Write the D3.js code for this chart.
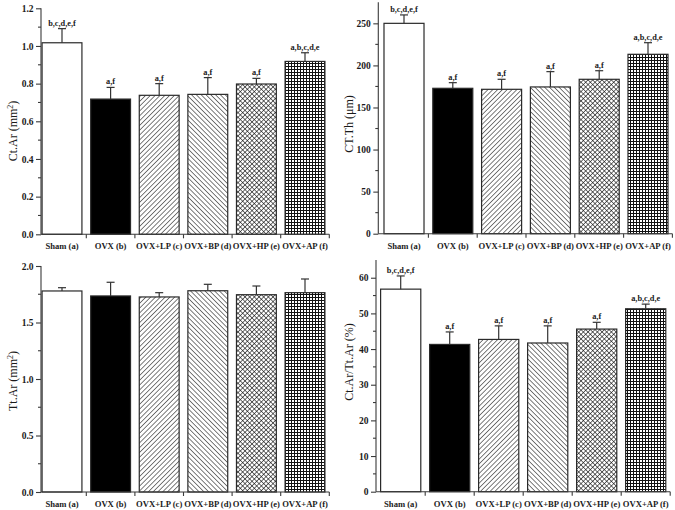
<!DOCTYPE html>
<html><head><meta charset="utf-8">
<script src="https://cdn.jsdelivr.net/npm/d3@7"></script>
<style>
html,body{margin:0;padding:0;background:#fff;}
svg{display:block;}
text{font-family:"Liberation Serif","Times New Roman",serif;fill:#1a1a1a;}
</style></head>
<body>
<svg id="chart" width="675" height="510"></svg>
<script>
// ---------- data ----------
const categories = ["Sham (a)", "OVX (b)", "OVX+LP (c)", "OVX+BP (d)", "OVX+HP (e)", "OVX+AP (f)"];
const fills = ["white", "black", "diagUp", "diagDown", "crossDiag", "grid"];

const ctArMean = [1.017, 0.718, 0.738, 0.743, 0.798, 0.918];
const ctArErr  = [0.075, 0.062, 0.062, 0.089, 0.030, 0.046];
const ctArSig  = ["b,c,d,e,f", "a,f", "a,f", "a,f", "a,f", "a,b,c,d,e"];
const ctArTicks = [0, 0.2, 0.4, 0.6, 0.8, 1.0, 1.2];

const ctThMean = [250, 172.8, 171.6, 174.4, 183.5, 213.2];
const ctThErr  = [10, 6.7, 11.9, 18.2, 10.2, 13.8];
const ctThSig  = ["b,c,d,e,f", "a,f", "a,f", "a,f", "a,f", "a,b,c,d,e"];
const ctThTicks = [0, 50, 100, 150, 200, 250];

const ttArMean = [1.779, 1.735, 1.726, 1.781, 1.746, 1.764];
const ttArErr  = [0.029, 0.121, 0.038, 0.057, 0.077, 0.121];
const ttArSig  = ["", "", "", "", "", ""];
const ttArTicks = [0, 0.5, 1.0, 1.5, 2.0];

const ratioMean = [56.8, 41.3, 42.7, 41.7, 45.6, 51.3];
const ratioErr  = [3.7, 3.5, 3.8, 4.8, 1.9, 1.3];
const ratioSig  = ["b,c,d,e,f", "a,f", "a,f", "a,f", "a,f", "a,b,c,d,e"];
const ratioTicks = [0, 10, 20, 30, 40, 50, 60];

// ---------- panels (layout) ----------
const panels = [
  {mean: ctArMean, err: ctArErr, sig: ctArSig, ticks: ctArTicks, max: 1.2, fmt: ".1f",
   title: "Ct.Ar (mm", sup: "2", tail: ")",
   axisX: 41, band: [37.7, 329.3], y: [234.3, 8.3], titleX: 13, titleY: 131},
  {mean: ctThMean, err: ctThErr, sig: ctThSig, ticks: ctThTicks, max: 275, fmt: "d",
   title: "CT.Th (\u03bcm)", sup: "", tail: "",
   axisX: 378.3, band: [379.6, 672.4], y: [233.7, 2.3], titleX: 349, titleY: 124},
  {mean: ttArMean, err: ttArErr, sig: ttArSig, ticks: ttArTicks, max: 2.0, fmt: ".1f",
   title: "Tt.Ar (mm", sup: "2", tail: ")",
   axisX: 41, band: [37.7, 329.3], y: [492, 266], titleX: 13, titleY: 381},
  {mean: ratioMean, err: ratioErr, sig: ratioSig, ticks: ratioTicks, max: 65, fmt: "d",
   title: "Ct.Ar/Tt.Ar (%)", sup: "", tail: "",
   axisX: 376, band: [376.2, 670.2], y: [491.7, 259.9], titleX: 349, titleY: 362}
];

const svg = d3.select("#chart");
const axisColor = "#3a3a3a";

// ---------- patterns ----------
const defs = svg.append("defs");
function linePattern(id, rot, spacing, sw) {
  const p = defs.append("pattern").attr("id", id).attr("patternUnits", "userSpaceOnUse")
    .attr("width", spacing).attr("height", spacing).attr("patternTransform", `rotate(${rot})`);
  p.append("rect").attr("width", spacing).attr("height", spacing).attr("fill", "white");
  p.append("line").attr("x1", 0).attr("y1", 0).attr("x2", 0).attr("y2", spacing)
    .attr("stroke", "#111").attr("stroke-width", sw);
}
linePattern("diagUp", 45, 3.4, 1.1);
linePattern("diagDown", -45, 3.4, 1.1);
{
  const s = 3.3;
  const p = defs.append("pattern").attr("id", "crossDiag").attr("patternUnits", "userSpaceOnUse")
    .attr("width", s).attr("height", s).attr("patternTransform", "rotate(45)");
  p.append("rect").attr("width", s).attr("height", s).attr("fill", "white");
  p.append("line").attr("x1", 0).attr("y1", 0).attr("x2", 0).attr("y2", s).attr("stroke", "#111").attr("stroke-width", 1.2);
  p.append("line").attr("x1", 0).attr("y1", 0).attr("x2", s).attr("y2", 0).attr("stroke", "#111").attr("stroke-width", 1.2);
}
{
  const s = 3;
  const p = defs.append("pattern").attr("id", "grid").attr("patternUnits", "userSpaceOnUse")
    .attr("width", s).attr("height", s);
  p.append("rect").attr("width", s).attr("height", s).attr("fill", "white");
  p.append("line").attr("x1", 0.5).attr("y1", 0).attr("x2", 0.5).attr("y2", s).attr("stroke", "#111").attr("stroke-width", 1);
  p.append("line").attr("x1", 0).attr("y1", 0.5).attr("x2", s).attr("y2", 0.5).attr("stroke", "#111").attr("stroke-width", 1);
}
function fillOf(f) { return f === "white" ? "white" : f === "black" ? "black" : `url(#${f})`; }

// ---------- draw ----------
panels.forEach(p => {
  const g = svg.append("g");
  const x = d3.scaleBand().domain(categories).range(p.band).paddingInner(0.18).paddingOuter(0.09);
  const y = d3.scaleLinear().domain([0, p.max]).range(p.y);

  // bars
  g.selectAll("rect.bar").data(categories).join("rect").attr("class", "bar")
    .attr("x", d => x(d)).attr("width", x.bandwidth())
    .attr("y", (d, i) => y(p.mean[i])).attr("height", (d, i) => y(0) - y(p.mean[i]))
    .attr("fill", (d, i) => fillOf(fills[i]))
    .attr("stroke", "#2a2a2a").attr("stroke-width", 1.2);

  // error bars (upper only)
  const cx = d => x(d) + x.bandwidth() / 2;
  g.selectAll("line.err").data(categories).join("line").attr("class", "err")
    .attr("x1", cx).attr("x2", cx)
    .attr("y1", (d, i) => y(p.mean[i])).attr("y2", (d, i) => y(p.mean[i] + p.err[i]))
    .attr("stroke", "#333").attr("stroke-width", 1.2);
  g.selectAll("line.cap").data(categories).join("line").attr("class", "cap")
    .attr("x1", d => cx(d) - 4).attr("x2", d => cx(d) + 4)
    .attr("y1", (d, i) => y(p.mean[i] + p.err[i])).attr("y2", (d, i) => y(p.mean[i] + p.err[i]))
    .attr("stroke", "#333").attr("stroke-width", 1.2);

  // significance labels
  g.selectAll("text.sig").data(categories).join("text").attr("class", "sig")
    .attr("x", cx).attr("y", (d, i) => y(p.mean[i] + p.err[i]) - 3)
    .attr("text-anchor", "middle").attr("font-size", 8.3).attr("font-weight", "bold")
    .text((d, i) => p.sig[i]);

  // y axis
  const yAxis = d3.axisLeft(y).tickValues(p.ticks).tickFormat(d3.format(p.fmt)).tickSize(5).tickPadding(2.5);
  const ya = g.append("g").attr("transform", `translate(${p.axisX},0)`).call(yAxis);
  ya.select(".domain").attr("d", `M0,${y(0)}V${y(p.max)}`);
  // minor ticks
  const step = p.ticks[1] - p.ticks[0];
  const minors = p.ticks.map(t => t + step / 2).filter(t => t < p.max);
  ya.selectAll("line.minor").data(minors).join("line").attr("class", "minor")
    .attr("x1", 0).attr("x2", -3).attr("y1", d => y(d)).attr("y2", d => y(d));
  ya.selectAll("text").attr("font-size", 9.5).attr("font-weight", "bold")
    .attr("font-family", '"Liberation Serif",serif');
  ya.selectAll("line,path").attr("stroke", axisColor).attr("stroke-width", 1.1);

  // x axis
  const xa = g.append("g").attr("transform", `translate(0,${y(0)})`);
  xa.append("line").attr("x1", p.axisX).attr("x2", p.band[1]).attr("y1", 0).attr("y2", 0)
    .attr("stroke", axisColor).attr("stroke-width", 1.1);
  const bounds = categories.slice(1).map(d => x(d) - x.step() * x.paddingInner() / 2).concat([p.band[1]]);
  xa.selectAll("line.xt").data(bounds).join("line").attr("class", "xt")
    .attr("x1", d => d).attr("x2", d => d).attr("y1", 0).attr("y2", 4)
    .attr("stroke", axisColor).attr("stroke-width", 1.1);
  xa.selectAll("text").data(categories).join("text")
    .attr("x", cx).attr("y", 15).attr("text-anchor", "middle")
    .attr("font-size", 8.6).attr("font-weight", "bold").text(d => d);

  // y title
  const t = g.append("text").attr("transform", `translate(${p.titleX},${p.titleY}) rotate(-90)`)
    .attr("text-anchor", "middle").attr("font-size", 12).attr("dy", "0.35em");
  t.append("tspan").text(p.title);
  if (p.sup) {
    t.append("tspan").attr("font-size", 8).attr("dy", "-0.5em").text(p.sup);
    t.append("tspan").attr("dy", "0.33em").text(p.tail);
  }
});
</script>
</body></html>
